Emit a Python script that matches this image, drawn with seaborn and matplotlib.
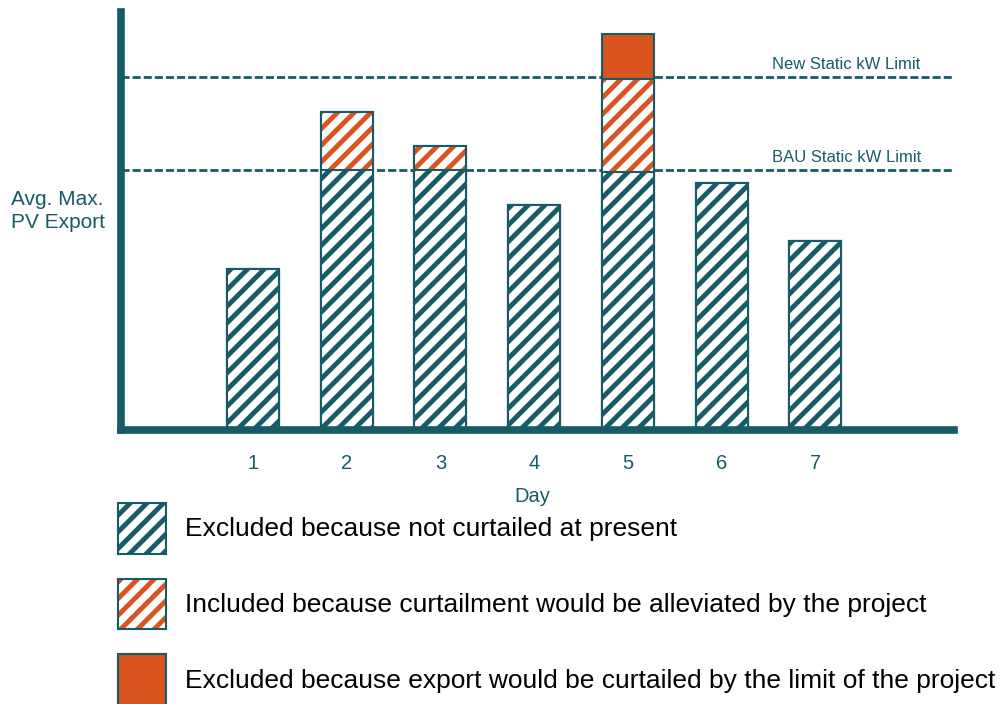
import numpy as np
import matplotlib
matplotlib.use("Agg")
import matplotlib.pyplot as plt
import matplotlib.patches as mpatches
from matplotlib.legend_handler import HandlerTuple
import seaborn as sns

# values (arbitrary kW units)
days = [1, 2, 3, 4, 5, 6, 7]
not_curtailed = [16.1, 26.0, 26.0, 22.5, 25.8, 24.7, 18.9]
alleviated = [0.0, 5.8, 2.4, 0.0, 9.3, 0.0, 0.0]
beyond_limit = [0.0, 0.0, 0.0, 0.0, 4.5, 0.0, 0.0]
bau_limit = 26.0
new_limit = 35.3

legend_labels = [
    "Excluded because not curtailed at present",
    "Included because curtailment would be alleviated by the project",
    "Excluded because export would be curtailed by the limit of the project",
]

TEAL = "#175b66"
ORANGE = "#d9541e"

sns.set_style("white")
plt.rcParams["font.family"] = ["Liberation Sans", "DejaVu Sans"]
plt.rcParams["hatch.linewidth"] = 3.5

fig = plt.figure(figsize=(10.03, 7.04), dpi=100)
ax = fig.add_axes([0.1206, 0.389, 0.8305, 0.5938])

# stacked heights, drawn tallest first and overdrawn
lower = np.array(not_curtailed)
middle = lower + np.array(alleviated)
total = middle + np.array(beyond_limit)

bar_w = 0.555
common = dict(x=days, ax=ax, saturation=1, width=bar_w, errorbar=None)

# solid orange top
sns.barplot(y=total, color=ORANGE, edgecolor=TEAL, linewidth=1.5, **common)
# orange hatched middle (hatch takes the edge colour)
sns.barplot(y=middle, color="white", edgecolor=ORANGE, linewidth=0, hatch="//", **common)
sns.barplot(y=middle, fill=False, color=TEAL, edgecolor=TEAL, linewidth=1.5, **common)
# teal hatched base
sns.barplot(y=lower, color="white", edgecolor=TEAL, linewidth=1.5, hatch="//", **common)

# static limit lines
for lim, name in [(new_limit, "New Static kW Limit"), (bau_limit, "BAU Static kW Limit")]:
    ax.axhline(lim, color=TEAL, lw=2, ls=(0, (2.9, 1.1)), zorder=0.5)
    ax.annotate(name, xy=(0.871, lim), xycoords=ax.get_yaxis_transform(),
                xytext=(0, 4), textcoords="offset points",
                ha="center", va="bottom", fontsize=12, color=TEAL)

ax.set_xlim(-1.41, 7.48)
ax.set_ylim(0, 41.8)

for side in ["top", "right"]:
    ax.spines[side].set_visible(False)
for side in ["left", "bottom"]:
    ax.spines[side].set_color(TEAL)
    ax.spines[side].set_linewidth(5.5)

ax.set_yticks([bau_limit, new_limit])
ax.set_yticklabels([])
ax.tick_params(axis="y", direction="inout", length=16.5, width=3, color=TEAL)
ax.tick_params(axis="x", direction="out", length=6, width=2, color=TEAL,
               pad=11.5, labelsize=14.5, labelcolor=TEAL)

ax.set_xlabel("Day", fontsize=14.5, color=TEAL, va="center")
ax.xaxis.set_label_coords(0.4934, -0.158)
ax.set_ylabel("Avg. Max.\nPV Export", fontsize=15, color=TEAL, rotation=0,
              ha="left", va="center", multialignment="left", linespacing=1.25)
ax.yaxis.set_label_coords(-0.1326, 0.524)

# legend
h1 = mpatches.Patch(facecolor="white", edgecolor=TEAL, linewidth=1.5, hatch="//")
h2a = mpatches.Patch(facecolor="white", edgecolor=ORANGE, linewidth=0, hatch="//")
h2b = mpatches.Patch(fill=False, edgecolor=TEAL, linewidth=1.5)
h3 = mpatches.Patch(facecolor=ORANGE, edgecolor=TEAL, linewidth=1.5)
fig.legend([h1, (h2a, h2b), h3], legend_labels,
           handler_map={tuple: HandlerTuple(ndivide=1)},
           loc="upper left", bbox_to_anchor=(0.1176, 0.2854),
           frameon=False, borderpad=0, borderaxespad=0,
           fontsize=19, labelcolor="black", handlelength=1.82, handleheight=2.57,
           handletextpad=0.72, labelspacing=0.95)

fig.savefig("out.png", dpi=100)
